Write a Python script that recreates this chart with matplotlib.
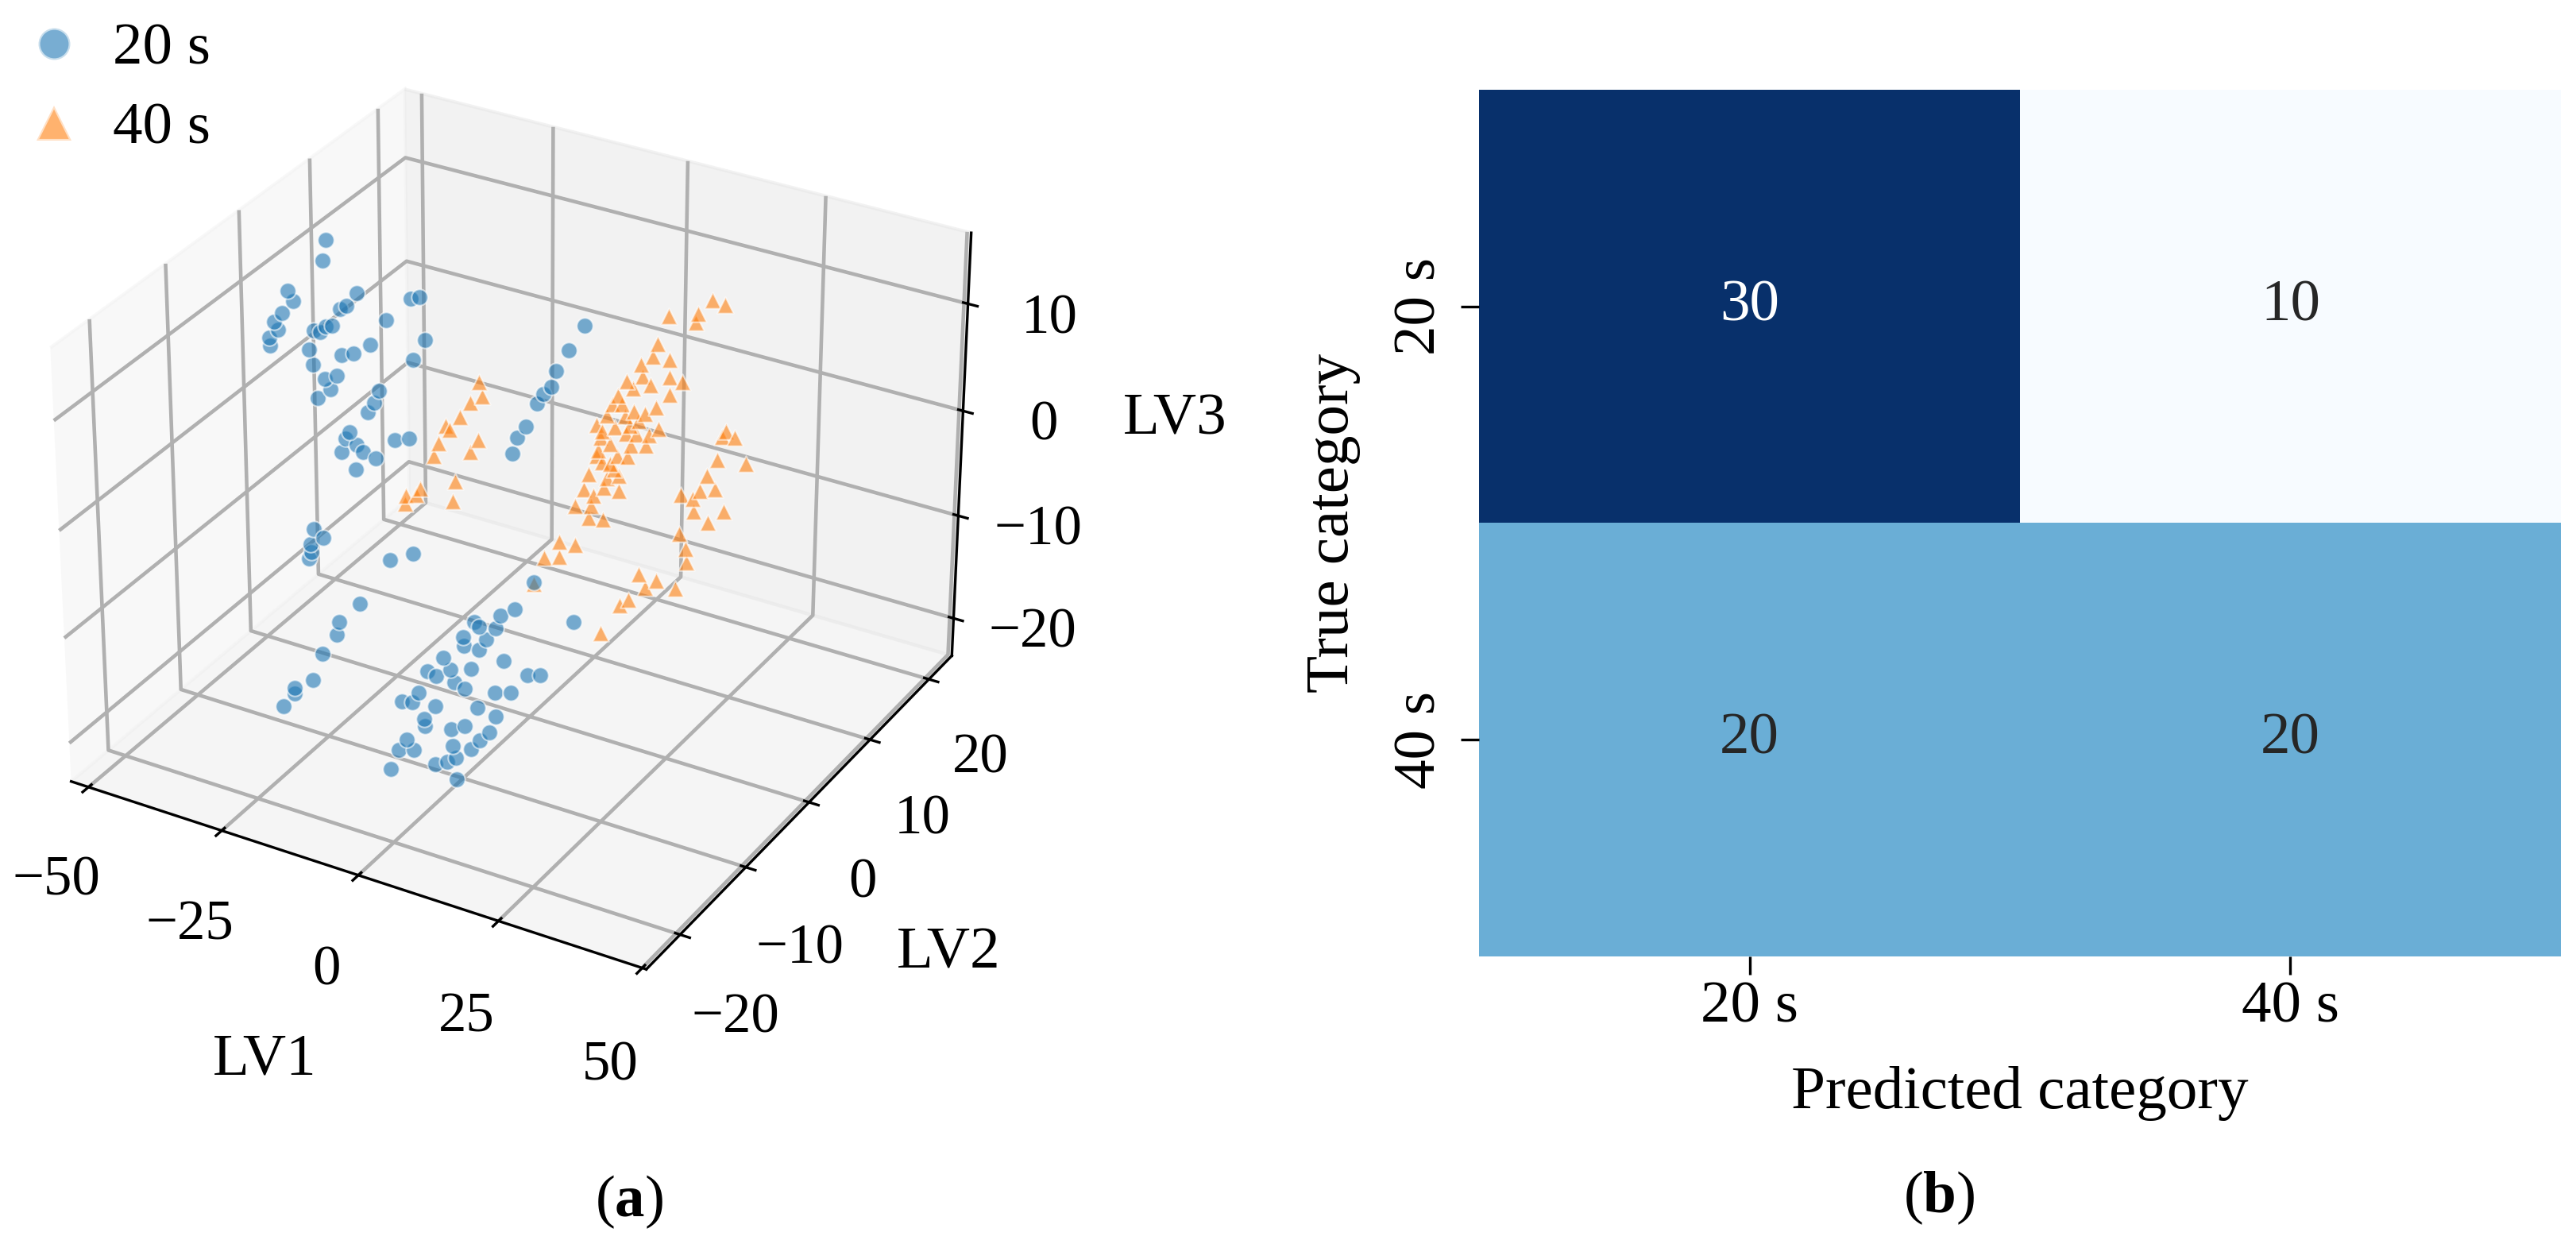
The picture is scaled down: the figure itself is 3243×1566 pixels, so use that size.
import numpy as np
import matplotlib
matplotlib.use('Agg')
import matplotlib.pyplot as plt
from matplotlib.lines import Line2D

plt.rcParams['font.family'] = 'Liberation Serif'
plt.rcParams['mathtext.fontset'] = 'custom'
plt.rcParams['mathtext.rm'] = 'Liberation Serif'
plt.rcParams['mathtext.bf'] = 'Liberation Serif:bold'
plt.rcParams['grid.linewidth'] = 1.1
plt.rcParams['grid.color'] = '#b0b0b0'

#==========================================================
# (a) latent variable scores, 20 s class
#==========================================================
blue_x = [-39.1, -39.8, -46.6, -45.6, -47.7, -49.3, -48.5, -50.3, -50.1, -33.5,
          -35.6, -36.7, -38.3, -39.5, -41.7, -40.5, -42.7, -42.1, -36.6, -34.3,
          -31.2, -28.1, -23.5, -21.9, -21.0, -23.2, -39.8, -37.5, -38.8, -41.2,
          -29.7, -30.6, -31.9, -35.3, -36.2, -34.1, -37.0, -32.9, -30.5, -34.3,
          -26.8, -24.1,
          5.5, 2.7, 0.4, -0.5, -1.9, -3.0, -5.1, -6.6, -7.6,
          -39.9, -38.0, -40.5, -40.4, -40.9, -25.5, -21.1, 1.3,
          -12.1, -15.9, -16.5, -19.2, -21.0, -24.5, -24.5, -26.7, 15.6, 13.1,
          8.5, 9.3, 12.2, 6.4, 10.6, 6.6, 9.3, 25.9, 2.8, 13.7,
          7.9, 4.1, 0.0, 1.6, 4.8, 6.7, 17.9, 20.1, 12.1, 14.9,
          -1.6, -4.7, -2.8, 1.3, 8.9, 12.2, -0.7, -0.6, 6.7, 4.2,
          11.1, 9.3, -3.9, -5.4, -2.6, 4.5, 7.7, 5.0, 3.4, 1.3,
          -6.9, 5.1]
blue_y = [1.5, 1.5, 1.5, 1.5, 1.5, 1.5, 1.5, 1.5, 1.5, 1.5,
          1.5, 1.5, 1.5, 1.5, 1.5, 1.5, 1.5, 1.5, 1.5, 1.5,
          1.5, 1.5, 1.5, 1.5, 1.5, 1.5, 1.5, 1.5, 1.5, 1.5,
          1.5, 1.5, 1.5, 1.5, 1.5, 1.5, 1.5, 1.5, 1.5, 1.5,
          1.5, 1.5,
          3.5, 3.5, 3.5, 3.5, 3.5, 3.5, 3.5, 3.5, 3.5,
          -0.5, -0.5, -0.5, -0.5, -0.5, -0.5, -0.5, -0.5,
          -15.0, -15.0, -15.0, -15.0, -15.0, -15.0, -15.0, -15.0, -15.0, -15.0,
          -15.0, -15.0, -15.0, -15.0, -15.0, -15.0, -15.0, -15.0, -15.0, -15.0,
          -15.0, -15.0, -15.0, -15.0, -15.0, -15.0, -15.0, -15.0, -15.0, -15.0,
          -15.0, -15.0, -15.0, -15.0, -15.0, -15.0, -15.0, -15.0, -15.0, -15.0,
          -15.0, -15.0, -15.0, -15.0, -15.0, -15.0, -15.0, -15.0, -15.0, -15.0,
          -15.0, -15.0]
blue_z = [14.9, 12.9, 9.2, 8.4, 7.0, 6.0, 5.3, 4.3, 3.6, 10.8,
          9.3, 8.9, 7.1, 6.9, 6.2, 6.2, 4.3, 2.9, 4.6, 5.1,
          6.3, 9.0, 11.6, 12.0, 8.2, 6.0, 1.9, 2.5, 1.1, -0.1,
          2.2, 1.0, -0.1, -2.5, -3.2, -3.5, -4.6, -4.0, -4.3, -5.9,
          -2.0, -1.5,
          12.1, 9.5, 7.3, 5.7, 4.8, 3.8, 1.3, 0.1, -1.6,
          -11.4, -11.9, -12.9, -13.7, -14.4, -12.2, -10.9, -10.2,
          -6.1, -8.4, -9.7, -11.9, -14.7, -16.0, -16.5, -18.1, -2.3, -3.3,
          -4.6, -4.9, -4.6, -6.3, -5.9, -7.1, -7.0, -1.9, -8.8, -7.4,
          -9.0, -9.7, -10.5, -10.7, -10.8, -11.1, -8.0, -7.7, -10.6, -10.1,
          -12.8, -14.1, -13.9, -13.6, -12.5, -12.8, -15.1, -15.8, -14.6, -15.3,
          -14.5, -15.5, -17.6, -18.8, -18.4, -16.8, -16.6, -17.9, -18.5, -19.1,
          -20.9, -19.9]

#==========================================================
# (a) latent variable scores, 40 s class
#==========================================================
orange_x = [23.4, 25.6, 15.8, 20.9, 20.6, 13.9, 13.0, 16.1, 10.9, 11.3,
            16.1, 18.3, 9.5, 8.4, 16.1, 6.9, 5.9, 7.6, 13.8, 9.8,
            4.9, 8.2, 11.7, 10.6, 3.0, 4.0, 6.3, 8.4, 10.3, 12.5,
            14.3, 5.5, 9.2, 3.4, 3.0, 6.9, 8.7, 4.1, 5.5, 1.7,
            5.0, 7.1, 0.8, 4.4, 7.2, 2.5, -0.8, 2.1, 1.7, 4.4,
            26.3, 25.6, 27.8, 24.8, 29.9, 23.1, 21.8, 24.5, 18.4, 20.5,
            20.8, 26.1, 23.4, 18.3, 19.4, 19.6, 11.0, 14.2, 12.2, 17.7,
            9.2, 7.5, 4.0, -3.7, -0.7, -6.5, -3.7, -8.4, 9.1, 12.0,
            6.3, 3.7, 12.7,
            -13.6, -13.0, -15.3, -17.2, -19.9, -19.1, -13.9, -15.3, -21.3, -22.2,
            -18.1, -18.7, -24.8, -25.5, -27.4, -27.6]
orange_y = [7.5, 7.5, 7.5, 7.5, 7.5, 7.5, 7.5, 7.5, 7.5, 7.5,
            7.5, 7.5, 7.5, 7.5, 7.5, 7.5, 7.5, 7.5, 7.5, 7.5,
            7.5, 7.5, 7.5, 7.5, 7.5, 7.5, 7.5, 7.5, 7.5, 7.5,
            7.5, 7.5, 7.5, 7.5, 7.5, 7.5, 7.5, 7.5, 7.5, 7.5,
            7.5, 7.5, 7.5, 7.5, 7.5, 7.5, 7.5, 7.5, 7.5, 7.5,
            7.5, 7.5, 7.5, 7.5, 7.5, 7.5, 7.5, 7.5, 7.5, 7.5,
            7.5, 7.5, 7.5, 7.5, 7.5, 7.5, 7.5, 7.5, 7.5, 7.5,
            7.5, 7.5, 7.5, 7.5, 7.5, 7.5, 7.5, 7.5, 7.5, 7.5,
            7.5, 7.5, 7.5,
            3.5, 3.5, 3.5, 3.5, 3.5, 3.5, 3.5, 3.5, 3.5, 3.5,
            3.5, 3.5, 3.5, 3.5, 3.5, 3.5]
orange_z = [14.9, 14.7, 12.4, 13.3, 12.5, 9.6, 8.3, 8.4, 7.3, 6.2,
            6.8, 6.7, 4.9, 5.4, 5.2, 3.8, 2.9, 3.1, 3.7, 2.8,
            1.7, 2.1, 2.8, 2.0, 0.5, 0.1, 0.8, 0.5, 0.7, 0.9,
            1.8, -0.9, -0.5, -1.8, -2.4, -1.8, -1.6, -2.8, -2.8, -4.3,
            -4.2, -3.7, -5.9, -5.2, -5.1, -6.2, -7.7, -7.3, -8.5, -8.2,
            3.3, 2.7, 2.9, 0.4, 0.8, -1.3, -2.9, -2.4, -3.8, -3.9,
            -5.0, -4.2, -5.7, -7.5, -8.8, -10.0, -12.5, -12.6, -13.6, -12.8,
            -15.2, -16.0, -19.3, -11.6, -11.4, -13.5, -13.0, -16.4, 1.3, -0.1,
            -3.2, -0.6, 5.6,
            4.3, 3.0, 2.1, 0.5, -0.7, -1.0, -1.2, -2.5, -2.6, -3.9,
            -5.7, -7.7, -7.4, -8.1, -8.5, -9.3]

class_labels = ['20 s', '40 s']

#==========================================================
# (b) confusion matrix
#==========================================================
cm = np.array([[30, 10],
               [20, 20]])
tick_labels = ['20 s', '40 s']

#==========================================================
# plot
#==========================================================
fig = plt.figure(figsize=(10.81, 5.22), dpi=300)

c_blue = '#1f77b4'
c_orange = '#ff7f0e'

ax = fig.add_axes([-0.0024, 0.1689, 0.3975, 0.8231], projection='3d')
ax.scatter(blue_x, blue_y, blue_z, marker='o', s=24, color=c_blue, alpha=0.6,
           edgecolors='white', linewidths=0.5, depthshade=False)
ax.scatter(orange_x, orange_y, orange_z, marker='^', s=24, color=c_orange, alpha=0.6,
           edgecolors='white', linewidths=0.5, depthshade=False)

ax.set_xlim(-53.3, 50.7)
ax.set_ylim(-25, 24)
ax.set_zlim(-23.7, 16.5)
ax.set_xticks([-50, -25, 0, 25, 50])
ax.set_yticks([-20, -10, 0, 10, 20])
ax.set_zticks([-20, -10, 0, 10])
ax.tick_params(labelsize=17, pad=7)
ax.set_xlabel('LV1', fontsize=18, labelpad=19)
ax.set_ylabel('LV2', fontsize=18, labelpad=19)
ax.set_zlabel('LV3', fontsize=18, labelpad=19)

handles = [Line2D([], [], marker='o', linestyle='', markersize=9.6, markerfacecolor=c_blue,
                  markeredgecolor='white', alpha=0.6),
           Line2D([], [], marker='^', linestyle='', markersize=10.5, markerfacecolor=c_orange,
                  markeredgecolor='white', alpha=0.6)]
fig.legend(handles, class_labels, loc='upper left', bbox_to_anchor=(0.0, 1.001),
           frameon=False, fontsize=18, handlelength=1.0, handletextpad=0.5,
           labelspacing=0.42, borderaxespad=0)

# confusion matrix
ax2 = fig.add_axes([0.5742, 0.2312, 0.4199, 0.6967])
ax2.pcolormesh(cm, cmap='Blues', vmin=cm.min(), vmax=cm.max())
ax2.set_xlim(0, 2)
ax2.set_ylim(2, 0)
cmap = plt.get_cmap('Blues')
for i in range(cm.shape[0]):
    for j in range(cm.shape[1]):
        rgb = cmap((cm[i, j] - cm.min()) / (cm.max() - cm.min()))
        lum = 0.2126 * rgb[0] + 0.7152 * rgb[1] + 0.0722 * rgb[2]
        tc = '#262626' if lum > 0.408 else 'white'
        ax2.text(j + 0.5, i + 0.5, str(cm[i, j]), color=tc, ha='center', va='center', fontsize=18)
ax2.set_xticks([0.5, 1.5])
ax2.set_xticklabels(tick_labels)
ax2.set_yticks([0.5, 1.5])
ax2.set_yticklabels(tick_labels, rotation=90, va='center')
for s in ax2.spines.values():
    s.set_visible(False)
ax2.tick_params(length=5.5, width=0.8, labelsize=18, pad=2)
ax2.tick_params(axis='y', pad=4)
ax2.set_xlabel('Predicted category', fontsize=18.5, labelpad=9.5)
ax2.set_ylabel('True category', fontsize=18.5, labelpad=10)

fig.text(792 / 3243, 1 - 1513 / 1566, r'($\mathbf{a}$)', fontsize=18, ha='center', va='center')
fig.text(2441 / 3243, 1 - 1508 / 1566, r'($\mathbf{b}$)', fontsize=18, ha='center', va='center')

fig.savefig('out.png', dpi=300)
plt.close()
